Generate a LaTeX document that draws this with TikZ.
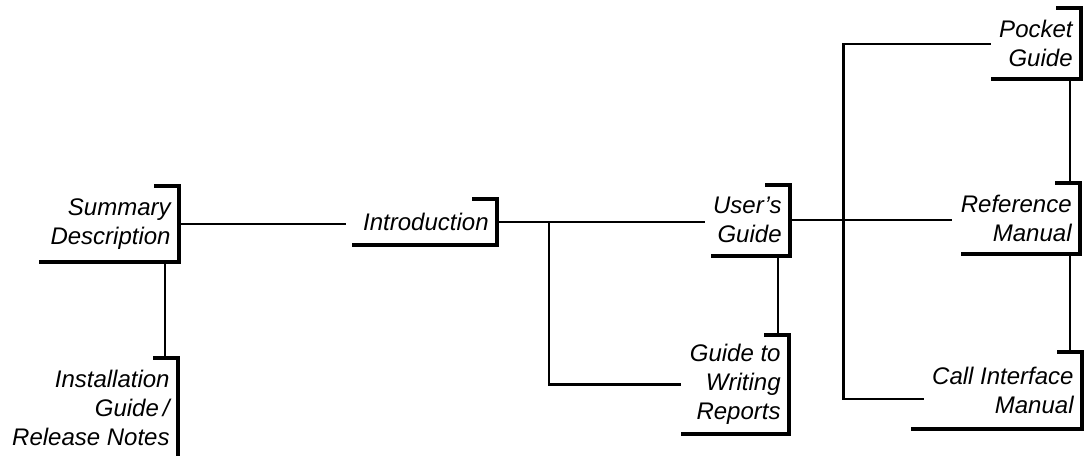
\documentclass[tikz,border=0pt]{standalone}
\usepackage{fontspec}
\setmainfont{Liberation Sans}
\usetikzlibrary{calc}

\begin{document}
\begin{tikzpicture}[
      x=0.5pt, y=-0.5pt,
      doc/.style={anchor=north east, align=right, inner xsep=4pt, inner ysep=6pt,
                  font=\fontsize{12}{14.5}\selectfont\itshape},
      brk/.style={line width=2pt, line join=miter},
      link/.style={line width=1.2pt}
    ]
      \useasboundingbox (0,0) rectangle (1085,455);

      \node[doc] (sum) at (179,186) {Summary\\Description};
      \node[doc] (inst) at (178,358) {Installation\\Guide\,/\\Release Notes};
      \node[doc, inner ysep=7pt] (intro) at (497,199) {Introduction};
      \node[doc] (user) at (790,185) {User's\\Guide};
      \node[doc, inner ysep=4.5pt] (guide) at (789,335) {Guide to\\Writing\\Reports};
      \node[doc] (pocket) at (1081,8) {Pocket\\Guide};
      \node[doc] (ref) at (1080,183) {Reference\\Manual};
      \node[doc, inner ysep=7.5pt] (call) at (1082,352) {Call Interface\\Manual};

      % brackets round the documents
      \foreach \n/\e in {sum/-1.5, inst/0, intro/-1.5, user/3, guide/0, pocket/0, ref/4.5, call/-6.5}
        \draw[brk] ([xshift=-12.5pt]\n.north east) -- (\n.north east)
                   -- (\n.south east) -- ([xshift=\e pt]\n.south west);

      \coordinate (sumfoot) at ([xshift=-7pt]sum.south east);
      \coordinate (userfoot) at ([xshift=-6pt]user.south east);
      \coordinate (pocketfoot) at ([xshift=-5.5pt]pocket.south east);
      \coordinate (reffoot) at ([xshift=-5pt]ref.south east);
      \coordinate (branch) at ($(intro.east)!0.25!(user.west)$);
      \coordinate (bus) at ($(user.east)!0.33!(ref.west)$);

      \draw[link, shorten >=4.5pt] (sum.east) -- (sum.east -| intro.west);
      \draw[link] (intro.east) -- (intro.east -| user.west);
      \draw[link] (user.east) -- (user.east -| ref.west);
      \draw[link] (branch) |- (guide.west);
      \draw[link] (pocket.west) -| (bus) |- ([yshift=-4pt]call.west);

      \draw[link] (sumfoot) -- (sumfoot |- inst.north);
      \draw[link] (userfoot) -- (userfoot |- guide.north);
      \draw[link] (pocketfoot) -- (pocketfoot |- ref.north);
      \draw[link] (reffoot) -- (reffoot |- call.north);
    \end{tikzpicture}
\end{document}
